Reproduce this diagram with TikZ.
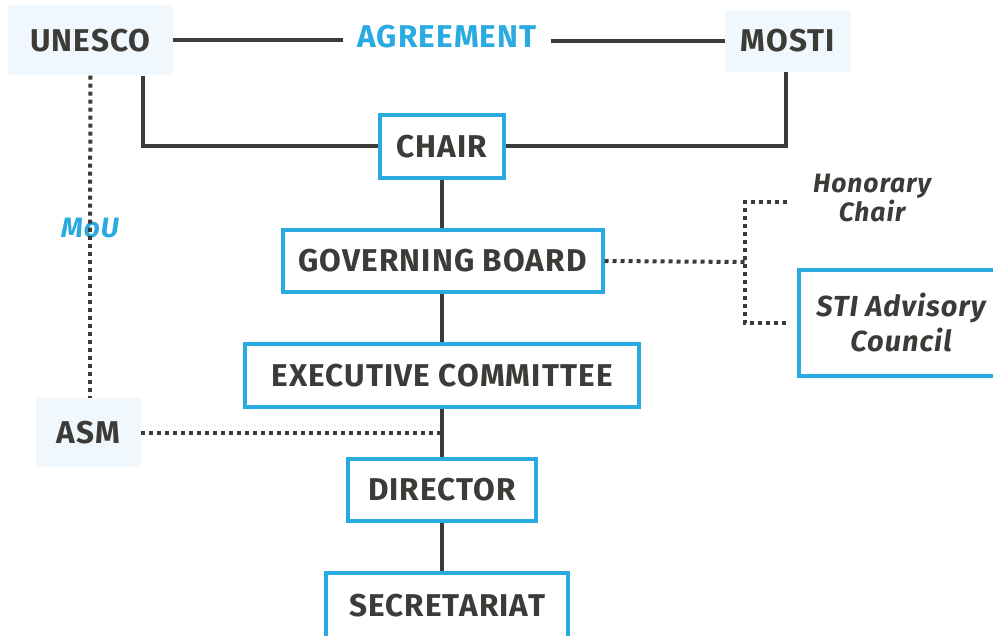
\documentclass[tikz,border=0pt]{standalone}
\usepackage{fontspec}
\setmainfont{Fira Sans}[LetterSpace=3.5]
\usepackage{tikz}
\usetikzlibrary{positioning, calc}

\definecolor{inkgray}{HTML}{3C3B38}
\definecolor{skyblue}{HTML}{29ABE2}
\definecolor{paleblue}{HTML}{F0F8FE}

\tikzset{
    body/.style={draw=skyblue, line width=4pt, fill=white, text=inkgray,
        font=\fontsize{31.5}{36}\selectfont\bfseries, inner sep=0pt},
    party/.style={fill=paleblue, text=inkgray,
        font=\fontsize{31.5}{36}\selectfont\bfseries, inner sep=0pt},
    tie/.style={draw=inkgray, line width=4pt},
    dotline/.style={draw=inkgray, line width=4pt, dash pattern=on 4pt off 4pt},
    bluetag/.style={text=skyblue, font=\fontsize{31.5}{36}\selectfont\bfseries, inner sep=0pt}
}

\begin{document}
\begin{tikzpicture}[x=1pt, y=-1pt]
    \useasboundingbox (0,0) rectangle (993,636);
        \node[party, minimum width=165pt, minimum height=70pt] (unesco) at (90.5,40.5) {UNESCO};
        \node[party, minimum width=126pt, minimum height=62pt] (mosti) at (788,41) {MOSTI};
        \node[bluetag] (agree) at (447,37) {AGREEMENT};
        \node[body, minimum width=124pt, minimum height=63pt] (chair) at (442,146.5) {CHAIR};
        \node[body, minimum width=320pt, minimum height=62pt] (gov) at (442.5,261) {GOVERNING BOARD};
        \node[body, minimum width=394pt, minimum height=63pt] (exec) at (442,375.5) {EXECUTIVE COMMITTEE};
        \node[body, minimum width=188pt, minimum height=62pt] (dir) at (442,490) {DIRECTOR};
        \node[body, minimum width=242pt, minimum height=66pt] (sec) at (447,606) {SECRETARIAT};
        \node[party, minimum width=105pt, minimum height=69pt] (asm) at (88.5,432.5) {ASM};
        \node[bluetag, font=\fontsize{28}{32}\selectfont\bfseries\itshape] (mou) at (90,228) {MoU};
        \node[text=inkgray, align=center, inner sep=0pt,
            font=\fontsize{26.5}{29}\selectfont\bfseries\itshape] (hon) at (872,198) {Honorary\\Chair};
        \node[body, align=center, minimum width=204pt, minimum height=106pt,
            font=\fontsize{29}{35}\selectfont\bfseries\itshape] (sti) at (901,323) {STI Advisory\\Council};
        \coordinate (fork) at (745,262);
        \coordinate (hontip) at (787,202);
        \coordinate (stitip) at ([xshift=-10pt]sti.west);
        % solid ties
        \draw[tie] (unesco.east) -- ([xshift=-14pt]unesco.east -| agree.west);
        \draw[tie] ([xshift=14pt]mosti.west -| agree.east) -- (mosti.west);
        \draw[tie] ([xshift=52.5pt]unesco.south) |- (chair.west);
        \draw[tie] ([xshift=-2pt]mosti.south) |- (chair.east);
        \draw[tie] (chair.south) -- (chair.south |- gov.north);
        \draw[tie] (chair.south |- gov.south) -- (exec.north);
        \draw[tie] (exec.south) -- (dir.north);
        \draw[tie] (dir.south) -- (dir.south |- sec.north);
        % dotted ties
        \draw[dotline] (unesco.south) -- ([yshift=-10pt]mou.north);
        \draw[dotline] ([yshift=10pt]mou.south) -- (mou |- asm.north);
        \draw[dotline] (asm.east) -- (asm.east -| exec.south);
        \draw[dotline] (gov.east) -- (fork);
        \draw[dotline] (hontip) -| (fork) |- (stitip);
    \end{tikzpicture}
\end{document}
